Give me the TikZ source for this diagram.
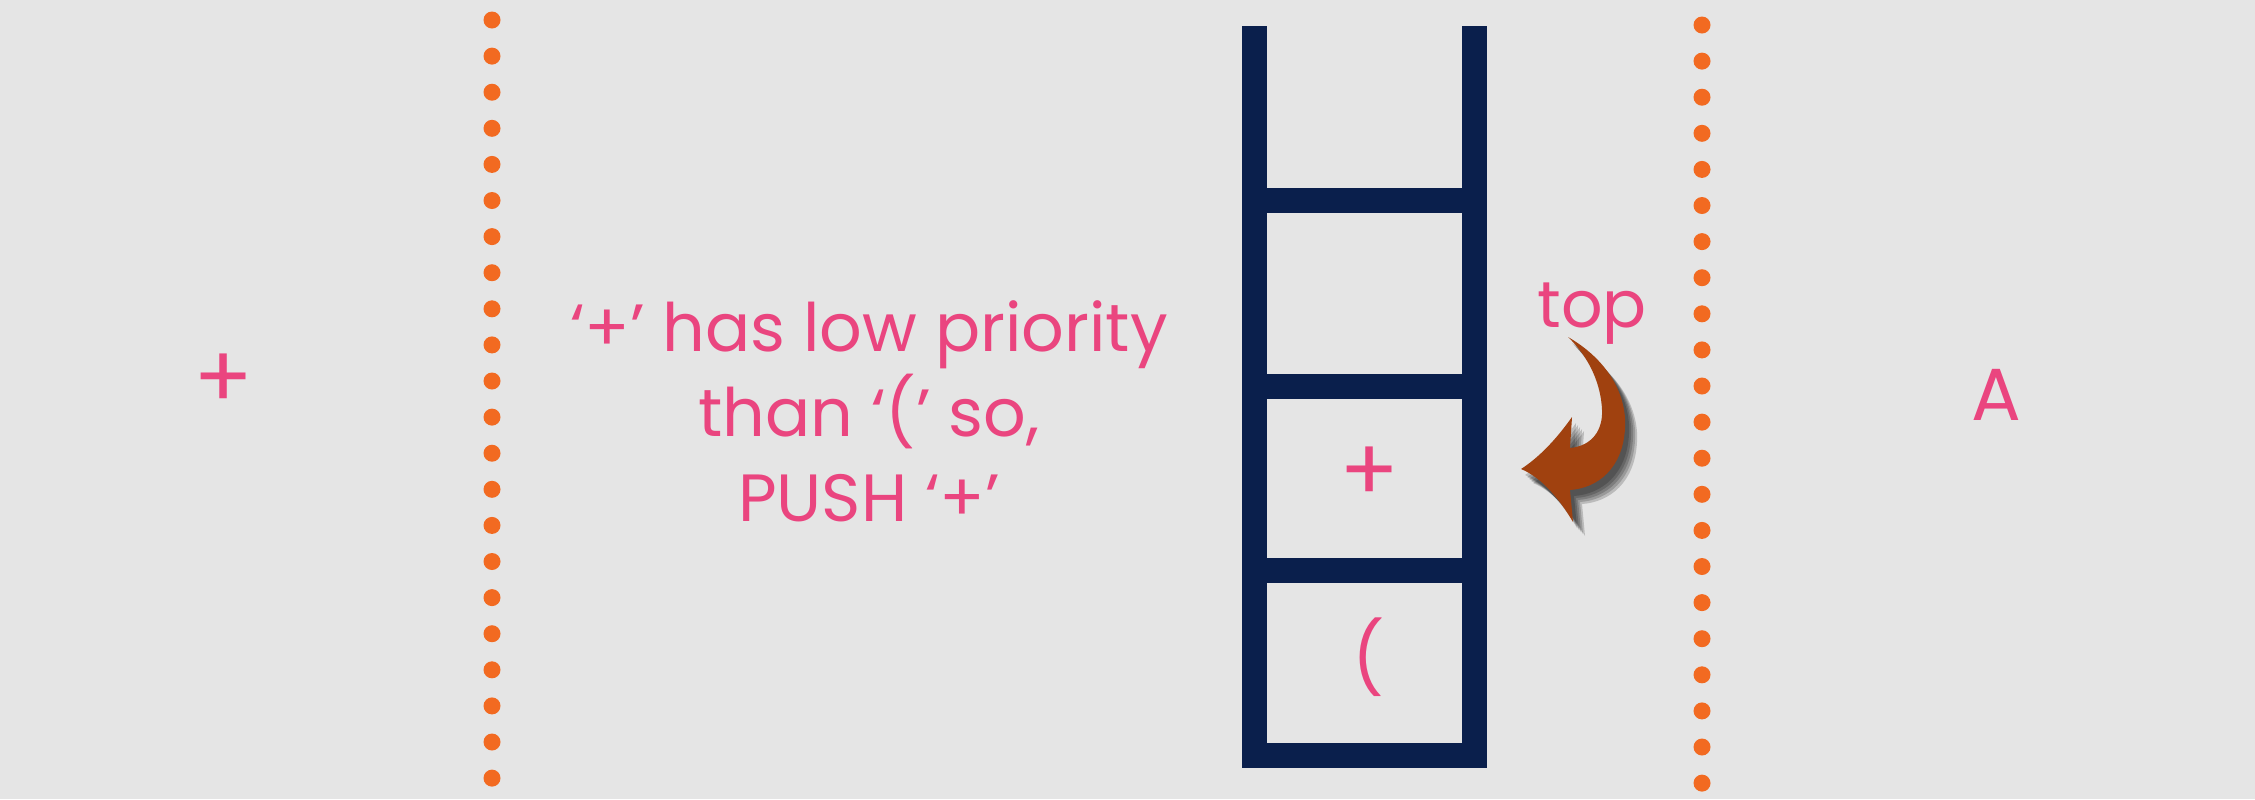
\documentclass[tikz,border=0pt]{standalone}
\usepackage{fontspec}
\setmainfont{Poppins}
\usetikzlibrary{positioning}
\definecolor{stacknavy}{RGB}{10,31,76}
\definecolor{dotorange}{RGB}{242,106,33}
\definecolor{labelpink}{RGB}{234,69,127}
\definecolor{arrowbrown}{RGB}{160,65,15}
\definecolor{panelgray}{RGB}{229,229,229}
\tikzset{
  stackbar/.style={stacknavy,line width=0.25cm},
  note/.style={labelpink,inner sep=0pt,font=\fontsize{19}{24.2}\selectfont},
  cellsign/.style={labelpink,inner sep=0pt,font=\fontsize{25}{30}\selectfont}
}
\newcommand\toparrow{(1568,337) .. controls (1608,360) and (1627,395) .. (1625,428) .. controls (1623,468) and (1598,488) .. (1570,490) -- (1573,522) .. controls (1556,493) and (1538,476) .. (1521,469) .. controls (1538,458) and (1555,441) .. (1572,417) -- (1570,448) .. controls (1592,446) and (1603,430) .. (1602,410) .. controls (1601,385) and (1590,358) .. (1568,337) -- cycle}
\begin{document}
\begin{tikzpicture}[x=0.01cm,y=-0.01cm]
				\fill[panelgray] (0,0) rectangle (2255,799);
				\useasboundingbox (0,0) rectangle (2255,799);
				\foreach \i in {0,...,21}
				\fill[dotorange] (492,20+36.1*\i) circle (0.085cm);
				\foreach \i in {0,...,21}
				\fill[dotorange] (1702,25+36.1*\i) circle (0.085cm);
				\draw[stackbar] (1254,26)--(1254,755.5)--(1474,755.5)--(1474,26);
				\foreach \y in {200,386,570}
				\draw[stackbar] (1254,\y)--(1474,\y);
				\node[cellsign] (plusout) at (224,381) {+};
				\node[note,align=center] (reason) at (869,411) {‘+’ has low priority\\than ‘(’ so,\\PUSH ‘+’};
				\node[cellsign] (pluscell) at (1369,474) {+};
				\node[cellsign,font=\fontsize{20}{24}\selectfont] (parencell) at (1368,657) {(};
				\node[note,font=\fontsize{18.5}{22}\selectfont,anchor=base] (toplabel) at (1592,327) {top};
				\node[note,font=\fontsize{21}{24}\selectfont] (outa) at (1996,395) {A};
				\foreach \s in {4,6,...,12}
				\fill[black,opacity=0.18,shift={(\s,\s+2)}] \toparrow;
				\fill[arrowbrown] \toparrow;
			\end{tikzpicture}
\end{document}
